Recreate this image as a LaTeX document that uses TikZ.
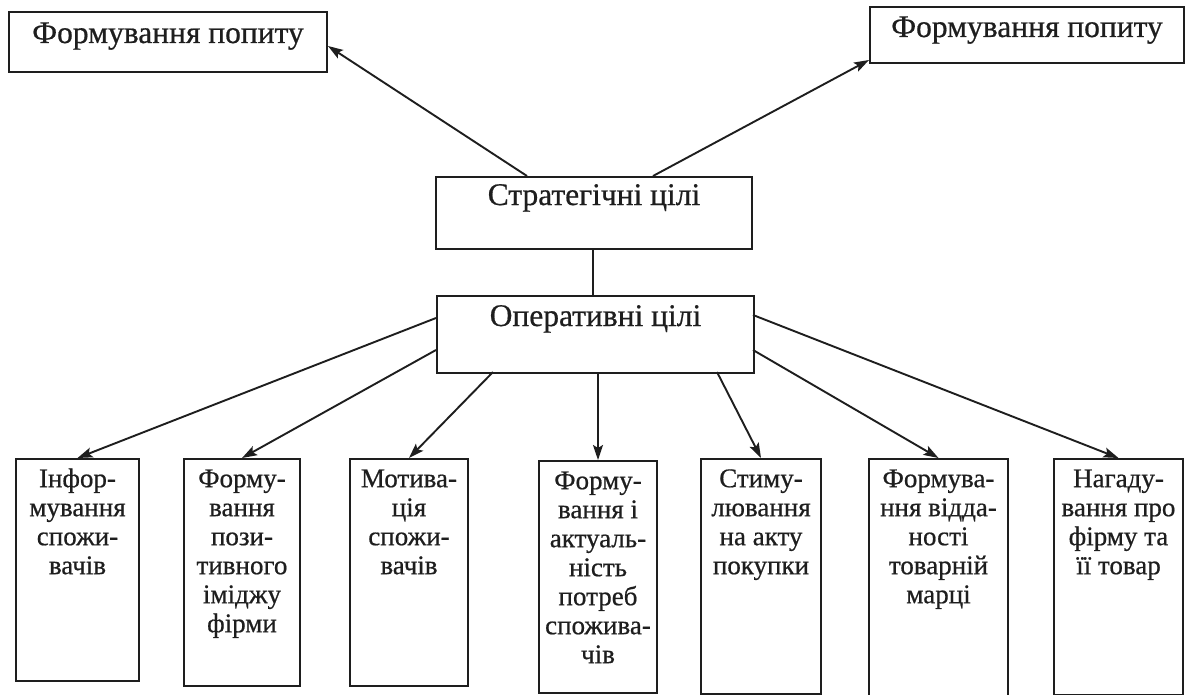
\documentclass[tikz,border=0pt]{standalone}
\usepackage{fontspec}
\setmainfont{Liberation Serif}[FakeBold=0.6]
\usetikzlibrary{arrows.meta,calc}
\definecolor{ink}{HTML}{1E1E1E}
\newcommand{\rbox}[5]{\node[box, minimum width={#4-#2}, minimum height={#5-#3}] (#1) at (#2,#3) {};}
\begin{document}
\begin{tikzpicture}[x=1pt,y=-1pt,
  box/.style={draw=ink, line width=2pt, inner sep=0pt, anchor=north west, fill=white},
  big/.style={font=\fontsize{31.5}{36}\selectfont, text=ink, inner sep=0pt, anchor=base},
  small/.style={font=\fontsize{27}{29}\selectfont, text=ink, inner sep=0pt, anchor=north, align=center},
  arr/.style={draw=ink, line width=1.9pt, -{Stealth[length=15pt,width=10pt,inset=3pt]}},
  conn/.style={draw=ink, line width=1.9pt}]
\useasboundingbox (0,0) rectangle (1188,695);
\fill[white] (0,0) rectangle (1188,695);
% top boxes
\rbox{TL}{8}{11}{326}{71}
\rbox{TR}{869}{6}{1183}{62}
\rbox{S}{435}{176}{751}{248}
\rbox{O}{436}{295}{753}{372}
% bottom boxes
\rbox{B1}{15}{458}{138}{680}
\rbox{B2}{183}{458}{299}{685}
\rbox{B3}{349}{458}{467}{685}
\rbox{B4}{538}{460}{656}{692}
\rbox{B5}{700}{458}{820}{693}
\rbox{B6}{868}{458}{1007}{702}
\rbox{B7}{1053}{458}{1182}{694}
% texts
\node[big] (tTL) at ($(TL.north)+(0,32)$) {Формування попиту};
\node[big] (tTR) at ($(TR.north)+(0,31)$) {Формування попиту};
\node[big] (tS) at ($(S.north)+(0,29)$) {Стратегічні цілі};
\node[big] (tO) at ($(O.north)+(0,31)$) {Оперативні цілі};
\node[small] (t1) at ($(B1.north)+(0,8)$) {\rule{0pt}{21pt}Інфор-\\мування\\спожи-\\вачів};
\node[small] (t2) at ($(B2.north)+(0,8)$) {\rule{0pt}{21pt}Форму-\\вання\\пози-\\тивного\\іміджу\\фірми};
\node[small] (t3) at ($(B3.north)+(0,8)$) {\rule{0pt}{21pt}Мотива-\\ція\\спожи-\\вачів};
\node[small] (t4) at ($(B4.north)+(0,8)$) {\rule{0pt}{21pt}Форму-\\вання і\\актуаль-\\ність\\потреб\\спожива-\\чів};
\node[small] (t5) at ($(B5.north)+(0,8)$) {\rule{0pt}{21pt}Стиму-\\лювання\\на акту\\покупки};
\node[small] (t6) at ($(B6.north)+(0,8)$) {\rule{0pt}{21pt}Формува-\\ння відда-\\ності\\товарній\\марці};
\node[small] (t7) at ($(B7.north)+(0,8)$) {\rule{0pt}{21pt}Нагаду-\\вання про\\фірму та\\її товар};
% connector points
\coordinate (s1) at (527,176);
\coordinate (s2) at (653,176);
\coordinate (o1) at (436,318);
\coordinate (o2) at (436,350);
\coordinate (o3) at (493,372);
\coordinate (o5) at (717,372);
\coordinate (o6) at (753,350);
\coordinate (o7) at (753,315);
% connectors
\draw[arr] (s1) -- ([yshift=-4pt]TL.east);
\draw[arr] (s2) -- ([yshift=4pt]TR.south west);
\draw[conn] (S.south -| 593,0) -- (O.north -| 593,0);
\draw[arr] (o1) -- (B1.north);
\draw[arr] (o2) -- (B2.north);
\draw[arr] (o3) -- (B3.north);
\draw[arr] (O.south -| B4.north) -- (B4.north);
\draw[arr] (o5) -- (B5.north);
\draw[arr] (o6) -- (B6.north);
\draw[arr] (o7) -- (B7.north);
\end{tikzpicture}
\end{document}
